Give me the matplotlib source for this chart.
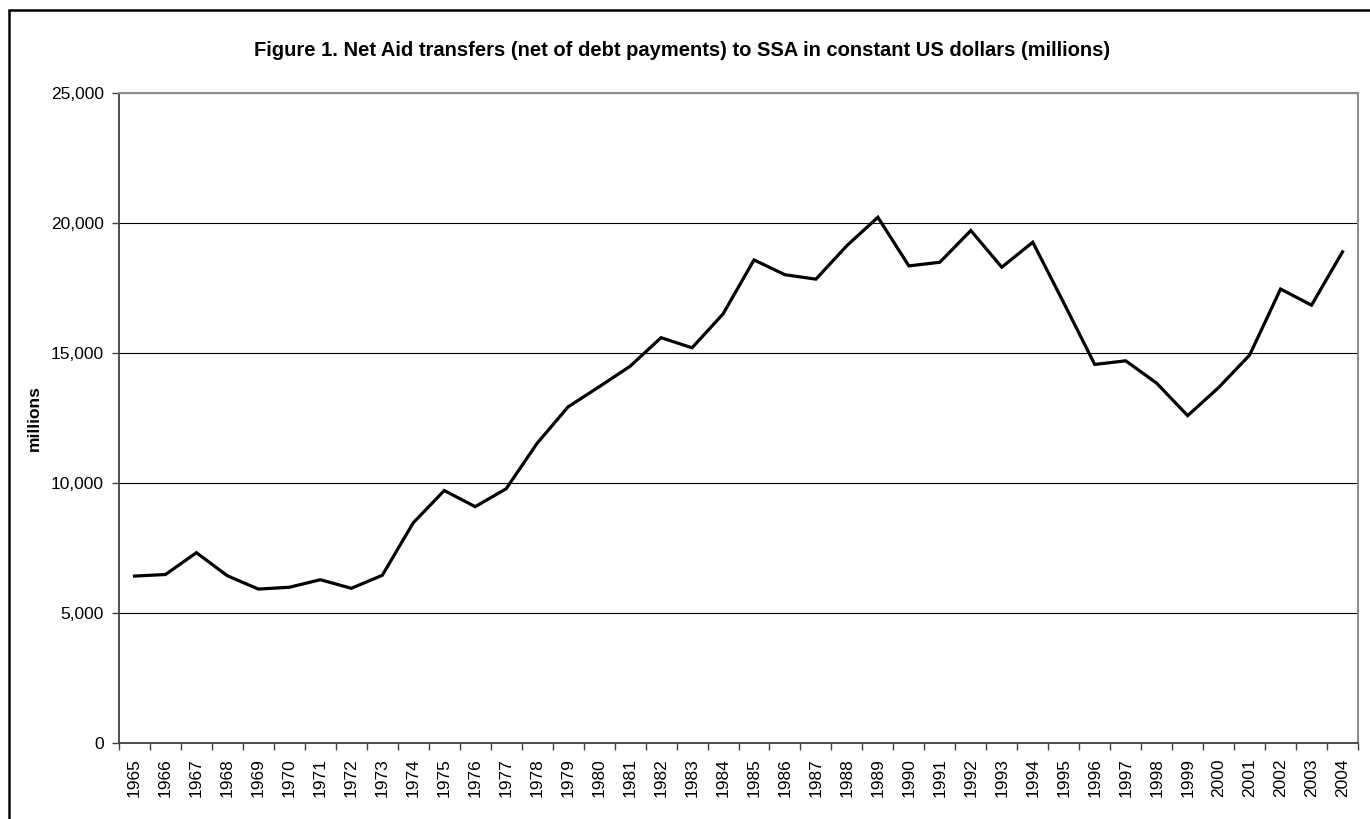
import matplotlib
matplotlib.use("Agg")
import matplotlib.pyplot as plt
from matplotlib.patches import Rectangle
from matplotlib.ticker import FuncFormatter, FixedLocator

plt.rcParams['font.family'] = ['Liberation Sans', 'DejaVu Sans']

years = list(range(1965, 2005))
net_aid = [6420, 6480, 7320, 6430, 5920, 5990, 6280, 5950, 6450, 8470,
           9710, 9090, 9780, 11530, 12930, 13700, 14490, 15590, 15200, 16500,
           18580, 18010, 17840, 19130, 20220, 18350, 18490, 19710, 18300, 19260,
           16930, 14560, 14700, 13840, 12590, 13670, 14920, 17460, 16840, 18890]

title = "Figure 1. Net Aid transfers (net of debt payments) to SSA in constant US dollars (millions)"
y_label = "millions"

W, H = 1370, 819
fig = plt.figure(figsize=(W / 100, H / 100), dpi=100)
ax = fig.add_axes([119 / W, 1 - 743 / H, (1358 - 119) / W, (743 - 93) / H])

x = list(range(len(years)))
ax.plot(x, net_aid, color='black', linewidth=2.3, solid_joinstyle='miter', zorder=3)

ax.set_xlim(-0.5, len(years) - 0.5)
ax.set_ylim(0, 25000)
ax.set_yticks(range(0, 25001, 5000))
ax.yaxis.set_major_formatter(FuncFormatter(lambda v, p: f"{int(v):,}"))
ax.yaxis.grid(True, color='black', linewidth=0.8)
ax.set_axisbelow(True)

# category axis: labels centred, tick marks between categories
ax.set_xticks(x)
ax.set_xticklabels([str(y) for y in years], rotation=90, fontsize=12.5)
ax.xaxis.set_minor_locator(FixedLocator([i - 0.5 for i in range(len(years) + 1)]))
ax.tick_params(axis='x', which='major', length=0, pad=11)
ax.tick_params(axis='x', which='minor', length=5, width=1, color='#404040')
ax.tick_params(axis='y', length=5, width=1, color='#404040', labelsize=12.5, pad=6)

for side in ['top', 'right']:
    ax.spines[side].set_color('#8c8c8c')
    ax.spines[side].set_linewidth(1.5)
for side in ['left', 'bottom']:
    ax.spines[side].set_color('#404040')
    ax.spines[side].set_linewidth(1.3)

ax.set_ylabel(y_label, fontsize=12.5, fontweight='bold', labelpad=6)
fig.text(0.5 - 3 / W, 1 - 51 / H, title, ha='center', va='center',
         fontsize=14.5, fontweight='bold')

# chart border (runs off the right and bottom of the image)
fig.patches.append(Rectangle((8.5 / W, -0.05), 1.1, 1 - 10 / H + 0.05,
                             transform=fig.transFigure, fill=False,
                             edgecolor='black', linewidth=1.8))

fig.savefig("out.png", dpi=100)
